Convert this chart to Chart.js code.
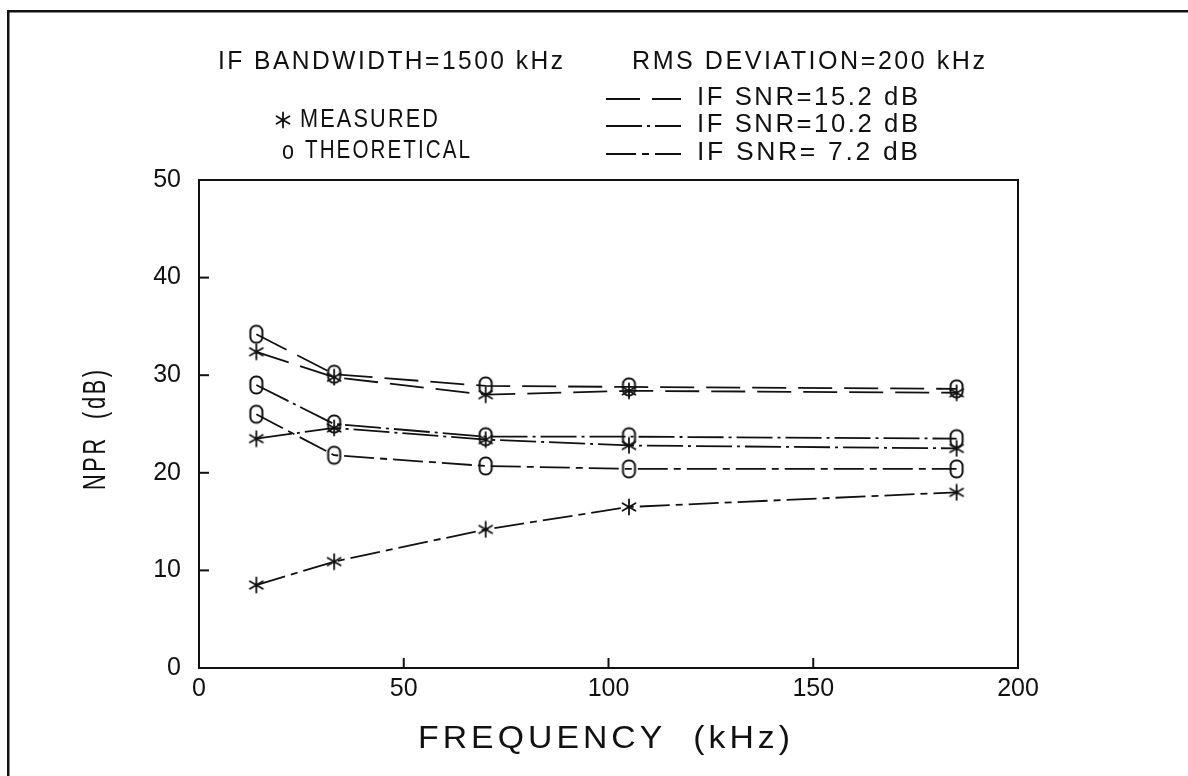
<!DOCTYPE html>
<html>
<head>
<meta charset="utf-8">
<script src="https://cdn.jsdelivr.net/npm/chart.js@4.4.1/dist/chart.umd.min.js"></script>
<style>
html,body{margin:0;padding:0;background:#fff;}
#wrap{width:1188px;height:776px;position:relative;}
</style>
</head>
<body>
<div id="wrap"><canvas id="c" width="1188" height="776"></canvas></div>
<script>
// ---- data ----
const freq = [14, 33, 70, 105, 185];
const meas152 = [32.4, 29.8, 28.0, 28.4, 28.2];
const theo152 = [34.2, 30.1, 28.9, 28.8, 28.6];
const meas102 = [23.5, 24.6, 23.4, 22.8, 22.5];
const theo102 = [29.0, 25.0, 23.7, 23.7, 23.5];
const meas72  = [8.5, 10.9, 14.2, 16.5, 18.0];
const theo72  = [26.0, 21.8, 20.7, 20.4, 20.4];
const xTicks = [0, 50, 100, 150, 200];
const yTicks = [0, 10, 20, 30, 40, 50];
const snrLabels = ['IF SNR=15.2 dB', 'IF SNR=10.2 dB', 'IF SNR= 7.2 dB'];
const headerLeft = 'IF BANDWIDTH=1500 kHz';
const headerRight = 'RMS DEVIATION=200 kHz';
const markerLabels = ['MEASURED', 'THEORETICAL'];
const xTitle = 'FREQUENCY  (kHz)';
const yTitle = 'NPR  (dB)';

const INK = '#111';
const dashes = [[34, 12], [36, 5, 3, 5], [30, 6, 7, 6]];

function makeStar() {
  const c = document.createElement('canvas'); c.width = 18; c.height = 18;
  const g = c.getContext('2d'); g.strokeStyle = INK; g.lineWidth = 1.8; g.lineCap = 'round';
  const cx = 9, cy = 9, r = 7.5;
  g.beginPath();
  g.moveTo(cx, cy - r); g.lineTo(cx, cy + r);
  for (const a of [Math.PI / 6, -Math.PI / 6]) {
    g.moveTo(cx - r * Math.cos(a), cy - r * Math.sin(a));
    g.lineTo(cx + r * Math.cos(a), cy + r * Math.sin(a));
  }
  g.stroke();
  return c;
}
function makeO() {
  const c = document.createElement('canvas'); c.width = 17; c.height = 22;
  const g = c.getContext('2d'); g.strokeStyle = INK; g.lineWidth = 2;
  const x = 2.5, y = 2.5, w = 12, h = 17, r = 5.5;
  g.beginPath();
  g.moveTo(x + r, y); g.lineTo(x + w - r, y); g.arcTo(x + w, y, x + w, y + r, r);
  g.lineTo(x + w, y + h - r); g.arcTo(x + w, y + h, x + w - r, y + h, r);
  g.lineTo(x + r, y + h); g.arcTo(x, y + h, x, y + h - r, r);
  g.lineTo(x, y + r); g.arcTo(x, y, x + r, y, r);
  g.closePath(); g.stroke();
  return c;
}
const starImg = makeStar();
const oImg = makeO();

function series(vals, dash, img, label) {
  return {
    label: label,
    data: freq.map((f, i) => ({x: f, y: vals[i]})),
    showLine: true,
    borderColor: INK,
    borderWidth: 1.8,
    borderDash: dash,
    pointStyle: img,
    pointRadius: 8,
    pointHoverRadius: 8,
    backgroundColor: 'rgba(0,0,0,0)',
    tension: 0
  };
}

const FAM = '"Liberation Sans", Arial, sans-serif';
function fitText(ctx, str, x0, x1, yc, size, track) {
  ctx.save();
  ctx.font = size + 'px ' + FAM;
  ctx.letterSpacing = (track * size) + 'px';
  const w = ctx.measureText(str).width - track * size;
  const sx = (x1 - x0) / w;
  ctx.textAlign = 'left';
  ctx.textBaseline = 'middle';
  ctx.translate(x0, yc);
  ctx.scale(sx, 1);
  ctx.fillText(str, 0, 0);
  ctx.restore();
}

const decor = {
  id: 'decor',
  beforeDraw(chart) {
    const ctx = chart.ctx;
    ctx.save(); ctx.fillStyle = '#fff'; ctx.fillRect(0, 0, chart.width, chart.height); ctx.restore();
  },
  afterDraw(chart) {
    const ctx = chart.ctx, a = chart.chartArea;
    const xs = chart.scales.x, ys = chart.scales.y;
    ctx.save();
    ctx.setLineDash([]);
    ctx.strokeStyle = INK; ctx.fillStyle = INK;
    // page frame (top and left)
    ctx.fillRect(7, 10, 2.5, 766);
    ctx.fillRect(7, 10, 1181, 2.5);
    // plot frame
    ctx.lineWidth = 2;
    ctx.strokeRect(a.left, a.top, a.right - a.left, a.bottom - a.top);
    // inward ticks from the library scales
    yTicks.slice(1, -1).forEach(v => { const p = ys.getPixelForValue(v); ctx.fillRect(a.left, p - 1, 10, 2); });
    xTicks.slice(1, -1).forEach(v => { const p = xs.getPixelForValue(v); ctx.fillRect(p - 1, a.bottom - 10, 2, 10); });
    // headers
    fitText(ctx, headerLeft, 218, 563, 62, 25, 0.1);
    fitText(ctx, headerRight, 632, 985, 62, 25, 0.1);
    // marker legend
    ctx.drawImage(starImg, 283 - 9, 120 - 9);
    fitText(ctx, markerLabels[0], 300, 438, 120, 25, 0.1);
    fitText(ctx, 'o', 282, 294, 152, 26, 0);
    fitText(ctx, markerLabels[1], 305, 470, 151, 25, 0.1);
    // line legend
    const ly = [99, 126, 154], ty = [98, 125, 153];
    for (let i = 0; i < 3; i++) {
      ctx.save();
      ctx.lineWidth = 1.8; ctx.setLineDash(dashes[i]);
      ctx.beginPath(); ctx.moveTo(606, ly[i]); ctx.lineTo(681, ly[i]); ctx.stroke();
      ctx.restore();
      fitText(ctx, snrLabels[i], 697, 918, ty[i], 25, 0.1);
    }
    // axis titles
    fitText(ctx, xTitle, 418, 790, 739, 32, 0.12);
    ctx.save();
    ctx.translate(96, 430);
    ctx.rotate(-Math.PI / 2);
    fitText(ctx, yTitle, -60, 60, 0, 32, 0.12);
    ctx.restore();
    ctx.restore();
  }
};

const datasets = [
  series(theo152, dashes[0], oImg, 'Theoretical 15.2 dB'),
  series(meas152, dashes[0], starImg, 'Measured 15.2 dB'),
  series(theo102, dashes[1], oImg, 'Theoretical 10.2 dB'),
  series(meas102, dashes[1], starImg, 'Measured 10.2 dB'),
  series(theo72, dashes[2], oImg, 'Theoretical 7.2 dB'),
  series(meas72, dashes[2], starImg, 'Measured 7.2 dB')
];

new Chart(document.getElementById('c'), {
  type: 'scatter',
  data: {datasets},
  options: {
    responsive: false,
    animation: false,
    devicePixelRatio: 1,
    layout: {padding: {left: 0, top: 180, right: 170, bottom: 0}},
    plugins: {legend: {display: false}, tooltip: {enabled: false}, title: {display: false}},
    scales: {
      x: {
        type: 'linear', min: 0, max: 200,
        afterBuildTicks: s => { s.ticks = xTicks.map(v => ({value: v})); },
        afterFit: s => { s.height = 108; },
        grid: {display: false, drawTicks: false},
        border: {display: false},
        ticks: {color: INK, padding: 6, font: {family: '"Liberation Sans", Arial, sans-serif', size: 25}, maxRotation: 0}
      },
      y: {
        type: 'linear', min: 0, max: 50,
        afterBuildTicks: s => { s.ticks = yTicks.map(v => ({value: v})); },
        afterFit: s => { s.width = 199; },
        grid: {display: false, drawTicks: false},
        border: {display: false},
        ticks: {color: INK, padding: 18, font: {family: '"Liberation Sans", Arial, sans-serif', size: 25}}
      }
    }
  },
  plugins: [decor]
});
</script>
</body>
</html>
